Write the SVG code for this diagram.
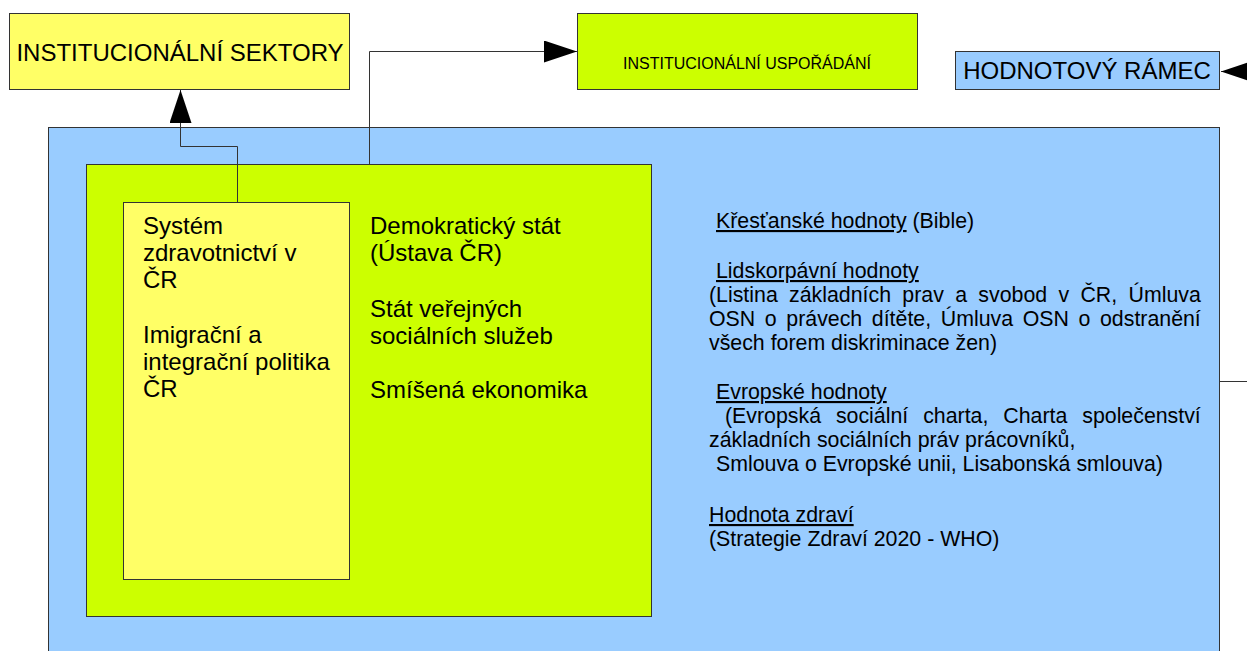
<svg xmlns="http://www.w3.org/2000/svg" width="1247" height="651" viewBox="0 0 1247 651">
<style>
text{font-family:"Liberation Sans",Arial,sans-serif;fill:#000}
.box{stroke:#333;stroke-width:1}
.yel{fill:#ffff66}
.grn{fill:#ccff00}
.blu{fill:#99ccff}
.big{font-size:24px}
.mid{font-size:21.33px}
.sm{font-size:16px}
.u{text-decoration:underline}
.con{fill:none;stroke:#333;stroke-width:1}
</style>
<defs>
<marker id="arr" viewBox="0 0 33 22" refX="33" refY="11" markerWidth="33" markerHeight="22" markerUnits="userSpaceOnUse" orient="auto">
<path d="M0,0 L33,11 L0,22 z" fill="#000"/>
</marker>
</defs>
<rect width="1247" height="651" fill="#fff"/>

<g id="hodnotovy-ramec-panel">
<rect class="box blu" x="48.5" y="127.5" width="1171" height="600"/>
<text class="mid" x="716" y="228"><tspan class="u">Křesťanské hodnoty</tspan> (Bible)</text>
<text class="mid" x="716" y="278"><tspan class="u">Lidskorpávní hodnoty</tspan></text>
<text class="mid" x="709" y="302" word-spacing="5.4">(Listina základních prav a svobod v ČR, Úmluva</text>
<text class="mid" x="709" y="326" word-spacing="3.7">OSN o právech dítěte, Úmluva OSN o odstranění</text>
<text class="mid" x="709" y="350">všech forem diskriminace žen)</text>
<text class="mid" x="716" y="399"><tspan class="u">Evropské hodnoty</tspan></text>
<text class="mid" x="725" y="423" word-spacing="9">(Evropská sociální charta, Charta společenství</text>
<text class="mid" x="709" y="447">základních sociálních práv prácovníků,</text>
<text class="mid" x="716" y="471">Smlouva o Evropské unii, Lisabonská smlouva)</text>
<text class="mid" x="709" y="522"><tspan class="u">Hodnota zdraví</tspan></text>
<text class="mid" x="709" y="546">(Strategie Zdraví 2020 - WHO)</text>
</g>

<g id="institucionalni-usporadani-panel">
<rect class="box grn" x="86.5" y="164.5" width="565" height="452"/>
<text class="big" x="370" y="234">Demokratický stát</text>
<text class="big" x="370" y="261">(Ústava ČR)</text>
<text class="big" x="370" y="317">Stát veřejných</text>
<text class="big" x="370" y="344">sociálních služeb</text>
<text class="big" x="370" y="398">Smíšená ekonomika</text>
</g>

<g id="institucionalni-sektory-panel">
<rect class="box yel" x="123.5" y="202.5" width="226" height="377"/>
<text class="big" x="143" y="234">Systém</text>
<text class="big" x="143" y="261">zdravotnictví v</text>
<text class="big" x="143" y="288">ČR</text>
<text class="big" x="143" y="343">Imigrační a</text>
<text class="big" x="143" y="370">integrační politika</text>
<text class="big" x="143" y="397">ČR</text>
</g>

<g id="institucionalni-sektory">
<rect class="box yel" x="9.5" y="13.5" width="340" height="76"/>
<text class="big" x="180" y="61" text-anchor="middle">INSTITUCIONÁLNÍ SEKTORY</text>
</g>

<g id="institucionalni-usporadani">
<rect class="box grn" x="577.5" y="13.5" width="340" height="76"/>
<text class="sm" x="747" y="69" text-anchor="middle">INSTITUCIONÁLNÍ USPOŘÁDÁNÍ</text>
</g>

<g id="hodnotovy-ramec">
<rect class="box blu" x="955.5" y="51.5" width="264" height="38"/>
<text class="big" x="1087" y="79" text-anchor="middle">HODNOTOVÝ RÁMEC</text>
</g>

<g id="connectors">
<path class="con" d="M237.5,202 V146.5 H180.5 V90" marker-end="url(#arr)"/>
<path class="con" d="M369.5,164 V51.5 H577" marker-end="url(#arr)"/>
<path class="con" d="M1220,381.5 H1290 V71.5 H1221" marker-end="url(#arr)"/>
</g>
</svg>
